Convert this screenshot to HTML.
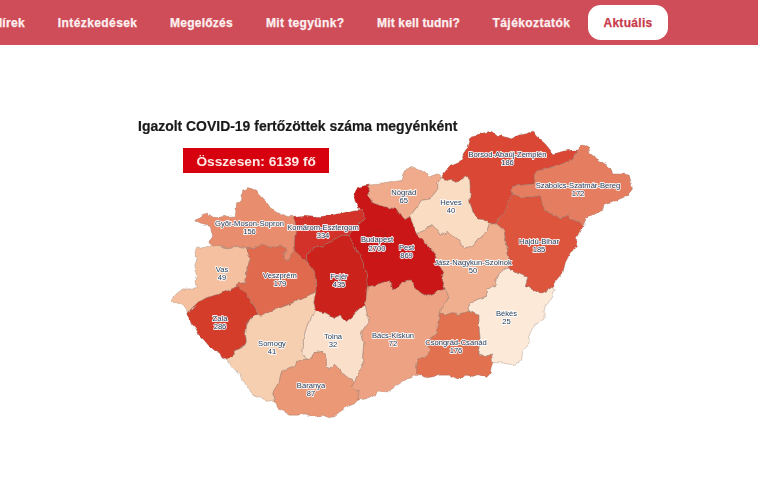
<!DOCTYPE html>
<html lang="hu"><head><meta charset="utf-8"><title>Koronavírus</title>
<style>
html,body{margin:0;padding:0;background:#fff;}
body{width:758px;height:485px;overflow:hidden;position:relative;font-family:"Liberation Sans",sans-serif;}
#nav{position:absolute;left:0;top:0;width:758px;height:45.4px;background:#cf4d59;box-shadow:0 0.4px 0.8px rgba(207,77,89,.55);}
.ni{position:absolute;top:15.3px;height:16px;line-height:16px;font-size:12px;font-weight:bold;color:#fdf0f1;white-space:nowrap;-webkit-text-stroke:0.25px #fdf0f1}
#pill{position:absolute;left:588px;top:4.5px;width:80px;height:35px;border-radius:12.5px;background:#fff;}
#pill span{position:absolute;left:0;width:80px;text-align:center;top:10.3px;line-height:16px;font-size:12px;font-weight:bold;color:#c93a4a;letter-spacing:0.31px;-webkit-text-stroke:0.25px #c93a4a}
#title{position:absolute;left:138px;top:116.6px;font-size:14.5px;font-weight:bold;color:#1a1a1a;white-space:nowrap;line-height:18px;transform-origin:0 0;transform:scaleX(0.962);filter:blur(0.35px);-webkit-text-stroke:0.2px #1a1a1a}
#total{position:absolute;left:182.8px;top:148.4px;width:146.7px;height:25px;background:#d7000f;color:#fde9e6;font-weight:bold;font-size:13.7px;line-height:27px;text-align:center;filter:blur(0.3px)}
svg{position:absolute;left:0;top:0;}
#lb text{font-family:"Liberation Sans",sans-serif;font-size:7.6px;fill:#25405f;text-anchor:middle;paint-order:stroke;stroke:#fff;stroke-width:1.8px;stroke-linejoin:round;stroke-opacity:.9}
#ln polygon{fill:none;stroke:#8a6f64;stroke-opacity:.45;stroke-width:.7;stroke-linejoin:round}
</style></head><body>
<div id="nav">
<span class="ni" style="left:-6.6px;letter-spacing:0.3px">Hírek</span>
<span class="ni" style="left:57.8px;letter-spacing:0.41px">Intézkedések</span>
<span class="ni" style="left:170px;letter-spacing:0.25px">Megelőzés</span>
<span class="ni" style="left:266px;letter-spacing:0.37px">Mit tegyünk?</span>
<span class="ni" style="left:377px;letter-spacing:0.16px">Mit kell tudni?</span>
<span class="ni" style="left:492.5px;letter-spacing:0.43px">Tájékoztatók</span>
<div id="pill"><span>Aktuális</span></div>
</div>
<div id="title">Igazolt COVID-19 fertőzöttek száma megyénként</div>
<div id="total">Összesen: 6139 fő</div>
<svg width="758" height="485" viewBox="0 0 758 485">
<defs><filter id="jg" x="-2%" y="-2%" width="104%" height="104%"><feTurbulence type="fractalNoise" baseFrequency="0.14" numOctaves="2" seed="7" result="n"/><feDisplacementMap in="SourceGraphic" in2="n" scale="4.2" xChannelSelector="R" yChannelSelector="G"/><feGaussianBlur stdDeviation="0.45"/></filter></defs>
<g filter="url(#jg)">
<g id="fl" stroke-linejoin="round">
<polygon points="275.5,403.5 266.5,400 260.3,398 254.2,395.5 249.5,390.3 245,383.5 240.2,376.3 235.6,370.3 229.8,364.2 226.5,360.0 229.5,358.2 233,355.5 233.3,350.8 238,349.4 243,347 246.3,341 245.4,334 246.7,325 250.5,318.2 257.8,314.3 260.3,315.2 270.3,311.5 280.3,307.7 290.4,303.9 300.4,298.9 310.4,293.9 316,292.5 315,297 313.8,302.6 316.3,311.3 310,318 306.5,327.6 303.4,337.6 303.5,346.5 302.8,352.5 306.5,360.2 296.4,361.4 295.2,366.4 288.9,368.9 281.4,371.4 278.9,382.7 275.1,387.7 273.9,395.2" fill="#f6ceb0"/>
<polygon points="316.3,311.3 325,312.6 333.9,317.6 340,315 346.4,321.4 352.7,316.3 357.7,310 365.2,305 368.9,321.4 365.2,326.4 361.4,332.6 363.9,342.7 362.7,355.2 362.7,365.2 358.9,372.7 354.5,381.2 348.5,378 342.5,373.2 338.2,368 334,363.9 329,368.9 326.5,365.1 326.2,358.5 322.7,351.3 314,352.6 311.5,358.8 306.5,360.2 302.8,352.5 303.5,346.5 303.4,337.6 306.5,327.6 310,318" fill="#fae0ca"/>
<polygon points="551.6,287.6 555.3,290.2 551.6,298.9 545.3,305.2 544.1,310 544.1,318.8 535.3,325 529,332.6 530.3,341.4 522.8,350.1 521.6,360.2 515.3,365.2 507.8,363.9 500.3,362.7 492.7,362.7 491.5,353.9 486.5,356.4 477.7,353.9 480.2,341.4 478.9,325 478.9,315 472.9,313.5 469.5,311.2 467.6,307.7 470.1,302.7 478.9,298.9 486.4,296.4 487.7,288.9 495.2,285.1 496.4,277.6 500.2,272.6 507.7,267.6 515.2,272.6 522.8,275.1 527.8,277.6 525.3,286.4 534,290.2 540.3,293.9 545.3,291.4" fill="#fce9d8"/>
<polygon points="409.6,216.7 416.4,207.7 421.4,200.2 430.2,198.9 437.7,188.9 437.7,182.6 441.5,177.6 449,180.1 455.3,181.4 461.5,180.1 465.3,175.8 469.8,180.1 470.3,190.1 469.8,200.2 472.8,212.7 477.8,218.9 483,219.5 489.5,223 486.6,231.5 477.8,239 472.8,245.3 465.3,248.5 460.3,242.8 454,236.5 447.7,231.5 440.2,235.2 436.5,229 431.5,225.2 425.2,229 416.4,232.7 413.9,226.5" fill="#f9dcc2"/>
<polygon points="187.8,313.5 186.3,309 182.6,304 175.1,302.7 171.3,300.2 176.3,293.9 182.6,288.9 190.1,288.9 196.4,287.6 195.1,281.4 196.4,275.1 193.9,268.8 196.4,261.3 196.4,253.8 195.1,248.8 203.9,246.3 213.5,246.8 217.7,246.3 227.7,248.8 236.5,246.3 246.5,248.8 247.7,255.1 250.3,260.1 246.5,267.6 246.5,276.4 245.2,282.6 238,283.7 237.7,286.0 232.7,288.4 225.2,292 216.4,294.7 206.4,297.7 197.6,302.7 190.5,309.5" fill="#f4c0a0"/>
<polygon points="416.4,232.7 425.2,229 431.5,225.2 436.5,229 440.2,235.2 447.7,231.5 454,236.5 460.3,242.8 465.3,248.5 472.8,245.3 477.8,239 486.6,231.5 489.5,223 495.1,222.7 504,230 506.5,245 509,257.6 507.7,267.6 500.2,272.6 496.4,277.6 495.2,285.1 487.7,288.9 486.4,296.4 478.9,298.9 470.1,302.7 467.6,307.7 469.5,311.2 464.3,312.5 457.8,314.6 452.4,312.5 447,314.6 440.5,313 441.5,308.1 445.9,303.8 448,297.3 445,288.9 441.3,280 443.8,272.6 438.8,265 435,255 427.5,245 420,237.5" fill="#f0b090"/>
<polygon points="367.5,185.1 382.6,183.9 401.4,180.1 403.9,171.3 411.4,166.3 422.7,171.3 430.2,176.3 437.7,173.8 441.5,177.6 437.7,182.6 437.7,188.9 430.2,198.9 421.4,200.2 416.4,207.7 409.6,216.7 403.9,220.2 398.9,212.7 396.4,208.9 382.6,206.4 372.6,202.7 368.8,196.4" fill="#efab8b"/>
<polygon points="421.3,374.5 412.8,376.5 404,380.8 395.4,386.5 388,392 377.9,391 374,395.5 365.3,398.9 357.8,400.2 359.1,391.4 355.3,390.2 351.6,386.4 354.5,381.2 358.9,372.7 362.7,365.2 362.7,355.2 363.9,342.7 361.4,332.6 365.2,326.4 368.9,321.4 365.2,305 366.4,295 367.2,286.8 375.2,285 382.7,282.5 390.2,281.3 392.8,288.8 397.8,287.5 402.8,281.3 410.3,280 415.3,287.5 420.3,292.5 426.6,296.3 435.4,292.5 445,288.9 448,297.3 445.9,303.8 441.5,308.1 440.5,313 438.3,325.5 437.2,333 432.9,337.4 427.5,339.5 426.4,344.9 430.7,349.3 427.5,354.7 421,357.9 416.6,361.2 415.6,366.6 417.7,373.1" fill="#eca283"/>
<polygon points="357.8,400.2 354.1,404 347.8,406.5 340.3,411.5 334,416.5 329,417.7 322.7,415.2 314,416.5 305.2,414 297.7,415.2 290.2,415.2 283.9,411.5 277.6,407.7 275.5,403.5 273.9,395.2 275.1,387.7 278.9,382.7 281.4,371.4 288.9,368.9 295.2,366.4 296.4,361.4 306.5,360.2 311.5,358.8 314,352.6 322.7,351.3 326.2,358.5 326.5,365.1 329,368.9 334,363.9 338.2,368 342.5,373.2 348.5,378 354.5,381.2 351.6,386.4 355.3,390.2 359.1,391.4" fill="#ea9876"/>
<polygon points="213.5,246.8 208.9,242.8 212.6,235.2 210.1,226.5 200.1,224 194.6,220.7 202.6,213.9 207.6,213.2 213.9,217.7 224,216.6 235.2,215.9 236.4,205.2 241.5,200.2 242.7,190.1 247.7,187.6 256.5,190.1 259,193.9 265.3,200.2 270.3,207.7 280.3,213.9 287.8,216.4 294.7,216.2 295.6,230 294.4,240.2 294.2,250.5 290.8,254.5 287.3,260.8 283.8,258.3 284.6,254 287.5,249.5 280.3,245 270.3,247.5 261.5,243.8 255.3,247.5 246.5,248.8 236.5,246.3 227.7,248.8 217.7,246.3" fill="#e88d6e"/>
<polygon points="577.8,150.1 582.8,145 587.3,146.3 589.1,152.6 595.4,157.6 602.9,162.6 610.4,167.6 612.9,173.9 622.9,173.9 629.2,175.1 631.7,183.9 632.5,188.9 627.9,195.2 622.9,197.7 614.2,201.4 604.1,205.2 602.9,210.2 594.1,214 586.6,217.7 582.8,226.5 578.5,221.5 574.4,220.8 567.8,215.5 561.2,217.8 553,214.5 544.7,210.5 542,203 540.5,195.6 529.9,197 520.2,196.8 512.7,193.9 511.4,190.2 512.7,186.4 522.7,185.1 534,183.9 534,175.1 536.5,171.4 550.3,167.6 562.8,163.8 572.8,157.6" fill="#e57e60"/>
<polygon points="492.7,362.7 490.2,372.7 486.5,376.4 480.2,373.9 472.7,376.4 466.4,375.2 457.6,379 450.1,375.2 441.4,375.2 427.6,377.7 421.3,374.5 417.7,373.1 415.6,366.6 416.6,361.2 421,357.9 427.5,354.7 430.7,349.3 426.4,344.9 427.5,339.5 432.9,337.4 437.2,333 438.3,325.5 440.5,313 447,314.6 452.4,312.5 457.8,314.6 464.3,312.5 469.5,311.2 472.9,313.5 478.9,315 478.9,325 480.2,341.4 477.7,353.9 486.5,356.4 491.5,353.9" fill="#e2714f"/>
<polygon points="246.5,248.8 255.3,247.5 261.5,243.8 270.3,247.5 280.3,245 287.5,249.5 284.6,254 283.8,258.3 287.3,260.8 290.8,254.5 294.2,250.5 299.8,255.8 307.2,261.8 311.5,267.2 314.5,271.5 315.6,280.1 316,292.5 310.4,293.9 300.4,298.9 290.4,303.9 280.3,307.7 270.3,311.5 260.3,315.2 257.8,314.3 254.2,306.5 250.2,299.5 246,293.5 241.5,288.5 237.7,286.0 238,283.7 245.2,282.6 246.5,276.4 246.5,267.6 250.3,260.1 247.7,255.1" fill="#e06a4e"/>
<polygon points="582.8,226.5 580.3,230.3 576.6,237.5 576.6,247.5 570.4,252.6 565.4,262.6 562.9,272.6 555.3,281.4 551.6,287.6 545.3,291.4 540.3,293.9 534,290.2 525.3,286.4 527.8,277.6 522.8,275.1 515.2,272.6 507.7,267.6 509,257.6 506.5,245 504,230 495.1,222.7 501.4,216.5 507.6,205.2 512.7,193.9 520.2,196.8 529.9,197 540.5,195.6 542,203 544.7,210.5 553,214.5 561.2,217.8 567.8,215.5 574.4,220.8 578.5,221.5" fill="#dd553e"/>
<polygon points="441.5,177.6 450,166.3 458.8,162.6 467.5,148.8 471.3,136.3 480.1,133.8 491.4,131.3 496.4,135 503.9,136.3 511.4,138.8 518.9,135 525.2,133.8 532.7,131.3 536.5,136.3 545.2,143.8 550.3,150.1 554,153.8 562.8,151.3 572.8,150.1 577.8,150.1 572.8,157.6 562.8,163.8 550.3,167.6 536.5,171.4 534,175.1 534,183.9 522.7,185.1 512.7,186.4 511.4,190.2 512.7,193.9 507.6,205.2 501.4,216.5 495.1,222.7 489.5,223 483,219.5 477.8,218.9 472.8,212.7 469.8,200.2 470.3,190.1 469.8,180.1 465.3,175.8 461.5,180.1 455.3,181.4 449,180.1" fill="#da4735"/>
<polygon points="226.5,360.0 222,358 219.6,353 214.6,350.6 208.6,345.5 203.5,339.4 198.5,334.5 195.5,329 190,323 187.8,313.5 190.5,309.5 197.6,302.7 206.4,297.7 216.4,294.7 225.2,292 232.7,288.4 237.7,286.0 241.5,288.5 246,293.5 250.2,299.5 254.2,306.5 257.8,314.3 250.5,318.2 246.7,325 245.4,334 246.3,341 243,347 238,349.4 233.3,350.8 233,355.5 229.5,358.2" fill="#d33c2c"/>
<polygon points="294.7,216.2 304.6,215.3 319.4,216.6 332,215 344.5,212.5 354.5,210 360.5,209.5 363.2,212 365.2,218.9 359,223.9 352.7,230.2 349.2,236.2 343,235 338,237.3 333,240.3 328,243 322.5,246 316.4,247.5 310.5,250 306.5,255.5 307.2,261.8 299.8,255.8 294.2,250.5 294.4,240.2 295.6,230" fill="#d2332a"/>
<polygon points="307.2,261.8 306.5,255.5 310.5,250 316.4,247.5 322.5,246 328,243 333,240.3 338,237.3 343,235 349.2,236.2 353.2,243.5 358.7,253.5 363,263 366,271.5 367,280.3 367.2,286.8 366.4,295 365.2,305 357.7,310 352.7,316.3 346.4,321.4 340,315 333.9,317.6 325,312.6 316.3,311.3 313.8,302.6 315,297 316,292.5 315.6,280.1 314.5,271.5 311.5,267.2" fill="#cc241c"/>
<polygon points="360.5,209.5 355.2,202.6 353.9,194 357.5,187.6 362,186.2 367.5,185.1 368.8,196.4 372.6,202.7 382.6,206.4 396.4,208.9 398.9,212.7 403.9,220.2 409.6,216.7 413.9,226.5 416.4,232.7 420,237.5 427.5,245 435,255 438.8,265 443.8,272.6 441.3,280 445,288.9 435.4,292.5 426.6,296.3 420.3,292.5 415.3,287.5 410.3,280 402.8,281.3 397.8,287.5 392.8,288.8 390.2,281.3 382.7,282.5 375.2,285 367.2,286.8 367,280.3 366,271.5 363,263 358.7,253.5 353.2,243.5 349.2,236.2 352.7,230.2 359,223.9 365.2,218.9 363.2,212" fill="#ca1715"/>
</g>
<g id="ln">
<polygon points="275.5,403.5 266.5,400 260.3,398 254.2,395.5 249.5,390.3 245,383.5 240.2,376.3 235.6,370.3 229.8,364.2 226.5,360.0 229.5,358.2 233,355.5 233.3,350.8 238,349.4 243,347 246.3,341 245.4,334 246.7,325 250.5,318.2 257.8,314.3 260.3,315.2 270.3,311.5 280.3,307.7 290.4,303.9 300.4,298.9 310.4,293.9 316,292.5 315,297 313.8,302.6 316.3,311.3 310,318 306.5,327.6 303.4,337.6 303.5,346.5 302.8,352.5 306.5,360.2 296.4,361.4 295.2,366.4 288.9,368.9 281.4,371.4 278.9,382.7 275.1,387.7 273.9,395.2"/>
<polygon points="316.3,311.3 325,312.6 333.9,317.6 340,315 346.4,321.4 352.7,316.3 357.7,310 365.2,305 368.9,321.4 365.2,326.4 361.4,332.6 363.9,342.7 362.7,355.2 362.7,365.2 358.9,372.7 354.5,381.2 348.5,378 342.5,373.2 338.2,368 334,363.9 329,368.9 326.5,365.1 326.2,358.5 322.7,351.3 314,352.6 311.5,358.8 306.5,360.2 302.8,352.5 303.5,346.5 303.4,337.6 306.5,327.6 310,318"/>
<polygon points="551.6,287.6 555.3,290.2 551.6,298.9 545.3,305.2 544.1,310 544.1,318.8 535.3,325 529,332.6 530.3,341.4 522.8,350.1 521.6,360.2 515.3,365.2 507.8,363.9 500.3,362.7 492.7,362.7 491.5,353.9 486.5,356.4 477.7,353.9 480.2,341.4 478.9,325 478.9,315 472.9,313.5 469.5,311.2 467.6,307.7 470.1,302.7 478.9,298.9 486.4,296.4 487.7,288.9 495.2,285.1 496.4,277.6 500.2,272.6 507.7,267.6 515.2,272.6 522.8,275.1 527.8,277.6 525.3,286.4 534,290.2 540.3,293.9 545.3,291.4"/>
<polygon points="409.6,216.7 416.4,207.7 421.4,200.2 430.2,198.9 437.7,188.9 437.7,182.6 441.5,177.6 449,180.1 455.3,181.4 461.5,180.1 465.3,175.8 469.8,180.1 470.3,190.1 469.8,200.2 472.8,212.7 477.8,218.9 483,219.5 489.5,223 486.6,231.5 477.8,239 472.8,245.3 465.3,248.5 460.3,242.8 454,236.5 447.7,231.5 440.2,235.2 436.5,229 431.5,225.2 425.2,229 416.4,232.7 413.9,226.5"/>
<polygon points="187.8,313.5 186.3,309 182.6,304 175.1,302.7 171.3,300.2 176.3,293.9 182.6,288.9 190.1,288.9 196.4,287.6 195.1,281.4 196.4,275.1 193.9,268.8 196.4,261.3 196.4,253.8 195.1,248.8 203.9,246.3 213.5,246.8 217.7,246.3 227.7,248.8 236.5,246.3 246.5,248.8 247.7,255.1 250.3,260.1 246.5,267.6 246.5,276.4 245.2,282.6 238,283.7 237.7,286.0 232.7,288.4 225.2,292 216.4,294.7 206.4,297.7 197.6,302.7 190.5,309.5"/>
<polygon points="416.4,232.7 425.2,229 431.5,225.2 436.5,229 440.2,235.2 447.7,231.5 454,236.5 460.3,242.8 465.3,248.5 472.8,245.3 477.8,239 486.6,231.5 489.5,223 495.1,222.7 504,230 506.5,245 509,257.6 507.7,267.6 500.2,272.6 496.4,277.6 495.2,285.1 487.7,288.9 486.4,296.4 478.9,298.9 470.1,302.7 467.6,307.7 469.5,311.2 464.3,312.5 457.8,314.6 452.4,312.5 447,314.6 440.5,313 441.5,308.1 445.9,303.8 448,297.3 445,288.9 441.3,280 443.8,272.6 438.8,265 435,255 427.5,245 420,237.5"/>
<polygon points="367.5,185.1 382.6,183.9 401.4,180.1 403.9,171.3 411.4,166.3 422.7,171.3 430.2,176.3 437.7,173.8 441.5,177.6 437.7,182.6 437.7,188.9 430.2,198.9 421.4,200.2 416.4,207.7 409.6,216.7 403.9,220.2 398.9,212.7 396.4,208.9 382.6,206.4 372.6,202.7 368.8,196.4"/>
<polygon points="421.3,374.5 412.8,376.5 404,380.8 395.4,386.5 388,392 377.9,391 374,395.5 365.3,398.9 357.8,400.2 359.1,391.4 355.3,390.2 351.6,386.4 354.5,381.2 358.9,372.7 362.7,365.2 362.7,355.2 363.9,342.7 361.4,332.6 365.2,326.4 368.9,321.4 365.2,305 366.4,295 367.2,286.8 375.2,285 382.7,282.5 390.2,281.3 392.8,288.8 397.8,287.5 402.8,281.3 410.3,280 415.3,287.5 420.3,292.5 426.6,296.3 435.4,292.5 445,288.9 448,297.3 445.9,303.8 441.5,308.1 440.5,313 438.3,325.5 437.2,333 432.9,337.4 427.5,339.5 426.4,344.9 430.7,349.3 427.5,354.7 421,357.9 416.6,361.2 415.6,366.6 417.7,373.1"/>
<polygon points="357.8,400.2 354.1,404 347.8,406.5 340.3,411.5 334,416.5 329,417.7 322.7,415.2 314,416.5 305.2,414 297.7,415.2 290.2,415.2 283.9,411.5 277.6,407.7 275.5,403.5 273.9,395.2 275.1,387.7 278.9,382.7 281.4,371.4 288.9,368.9 295.2,366.4 296.4,361.4 306.5,360.2 311.5,358.8 314,352.6 322.7,351.3 326.2,358.5 326.5,365.1 329,368.9 334,363.9 338.2,368 342.5,373.2 348.5,378 354.5,381.2 351.6,386.4 355.3,390.2 359.1,391.4"/>
<polygon points="213.5,246.8 208.9,242.8 212.6,235.2 210.1,226.5 200.1,224 194.6,220.7 202.6,213.9 207.6,213.2 213.9,217.7 224,216.6 235.2,215.9 236.4,205.2 241.5,200.2 242.7,190.1 247.7,187.6 256.5,190.1 259,193.9 265.3,200.2 270.3,207.7 280.3,213.9 287.8,216.4 294.7,216.2 295.6,230 294.4,240.2 294.2,250.5 290.8,254.5 287.3,260.8 283.8,258.3 284.6,254 287.5,249.5 280.3,245 270.3,247.5 261.5,243.8 255.3,247.5 246.5,248.8 236.5,246.3 227.7,248.8 217.7,246.3"/>
<polygon points="577.8,150.1 582.8,145 587.3,146.3 589.1,152.6 595.4,157.6 602.9,162.6 610.4,167.6 612.9,173.9 622.9,173.9 629.2,175.1 631.7,183.9 632.5,188.9 627.9,195.2 622.9,197.7 614.2,201.4 604.1,205.2 602.9,210.2 594.1,214 586.6,217.7 582.8,226.5 578.5,221.5 574.4,220.8 567.8,215.5 561.2,217.8 553,214.5 544.7,210.5 542,203 540.5,195.6 529.9,197 520.2,196.8 512.7,193.9 511.4,190.2 512.7,186.4 522.7,185.1 534,183.9 534,175.1 536.5,171.4 550.3,167.6 562.8,163.8 572.8,157.6"/>
<polygon points="492.7,362.7 490.2,372.7 486.5,376.4 480.2,373.9 472.7,376.4 466.4,375.2 457.6,379 450.1,375.2 441.4,375.2 427.6,377.7 421.3,374.5 417.7,373.1 415.6,366.6 416.6,361.2 421,357.9 427.5,354.7 430.7,349.3 426.4,344.9 427.5,339.5 432.9,337.4 437.2,333 438.3,325.5 440.5,313 447,314.6 452.4,312.5 457.8,314.6 464.3,312.5 469.5,311.2 472.9,313.5 478.9,315 478.9,325 480.2,341.4 477.7,353.9 486.5,356.4 491.5,353.9"/>
<polygon points="246.5,248.8 255.3,247.5 261.5,243.8 270.3,247.5 280.3,245 287.5,249.5 284.6,254 283.8,258.3 287.3,260.8 290.8,254.5 294.2,250.5 299.8,255.8 307.2,261.8 311.5,267.2 314.5,271.5 315.6,280.1 316,292.5 310.4,293.9 300.4,298.9 290.4,303.9 280.3,307.7 270.3,311.5 260.3,315.2 257.8,314.3 254.2,306.5 250.2,299.5 246,293.5 241.5,288.5 237.7,286.0 238,283.7 245.2,282.6 246.5,276.4 246.5,267.6 250.3,260.1 247.7,255.1"/>
<polygon points="582.8,226.5 580.3,230.3 576.6,237.5 576.6,247.5 570.4,252.6 565.4,262.6 562.9,272.6 555.3,281.4 551.6,287.6 545.3,291.4 540.3,293.9 534,290.2 525.3,286.4 527.8,277.6 522.8,275.1 515.2,272.6 507.7,267.6 509,257.6 506.5,245 504,230 495.1,222.7 501.4,216.5 507.6,205.2 512.7,193.9 520.2,196.8 529.9,197 540.5,195.6 542,203 544.7,210.5 553,214.5 561.2,217.8 567.8,215.5 574.4,220.8 578.5,221.5"/>
<polygon points="441.5,177.6 450,166.3 458.8,162.6 467.5,148.8 471.3,136.3 480.1,133.8 491.4,131.3 496.4,135 503.9,136.3 511.4,138.8 518.9,135 525.2,133.8 532.7,131.3 536.5,136.3 545.2,143.8 550.3,150.1 554,153.8 562.8,151.3 572.8,150.1 577.8,150.1 572.8,157.6 562.8,163.8 550.3,167.6 536.5,171.4 534,175.1 534,183.9 522.7,185.1 512.7,186.4 511.4,190.2 512.7,193.9 507.6,205.2 501.4,216.5 495.1,222.7 489.5,223 483,219.5 477.8,218.9 472.8,212.7 469.8,200.2 470.3,190.1 469.8,180.1 465.3,175.8 461.5,180.1 455.3,181.4 449,180.1"/>
<polygon points="226.5,360.0 222,358 219.6,353 214.6,350.6 208.6,345.5 203.5,339.4 198.5,334.5 195.5,329 190,323 187.8,313.5 190.5,309.5 197.6,302.7 206.4,297.7 216.4,294.7 225.2,292 232.7,288.4 237.7,286.0 241.5,288.5 246,293.5 250.2,299.5 254.2,306.5 257.8,314.3 250.5,318.2 246.7,325 245.4,334 246.3,341 243,347 238,349.4 233.3,350.8 233,355.5 229.5,358.2"/>
<polygon points="294.7,216.2 304.6,215.3 319.4,216.6 332,215 344.5,212.5 354.5,210 360.5,209.5 363.2,212 365.2,218.9 359,223.9 352.7,230.2 349.2,236.2 343,235 338,237.3 333,240.3 328,243 322.5,246 316.4,247.5 310.5,250 306.5,255.5 307.2,261.8 299.8,255.8 294.2,250.5 294.4,240.2 295.6,230"/>
<polygon points="307.2,261.8 306.5,255.5 310.5,250 316.4,247.5 322.5,246 328,243 333,240.3 338,237.3 343,235 349.2,236.2 353.2,243.5 358.7,253.5 363,263 366,271.5 367,280.3 367.2,286.8 366.4,295 365.2,305 357.7,310 352.7,316.3 346.4,321.4 340,315 333.9,317.6 325,312.6 316.3,311.3 313.8,302.6 315,297 316,292.5 315.6,280.1 314.5,271.5 311.5,267.2"/>
<polygon points="360.5,209.5 355.2,202.6 353.9,194 357.5,187.6 362,186.2 367.5,185.1 368.8,196.4 372.6,202.7 382.6,206.4 396.4,208.9 398.9,212.7 403.9,220.2 409.6,216.7 413.9,226.5 416.4,232.7 420,237.5 427.5,245 435,255 438.8,265 443.8,272.6 441.3,280 445,288.9 435.4,292.5 426.6,296.3 420.3,292.5 415.3,287.5 410.3,280 402.8,281.3 397.8,287.5 392.8,288.8 390.2,281.3 382.7,282.5 375.2,285 367.2,286.8 367,280.3 366,271.5 363,263 358.7,253.5 353.2,243.5 349.2,236.2 352.7,230.2 359,223.9 365.2,218.9 363.2,212"/>
<polygon points="369,233 374.5,229.8 381,231 385.5,235.5 386.8,243 384.5,250 380,255.5 374.5,257.5 370,253.5 366.8,247.5 365.8,240" style="stroke:#7a2a25;stroke-opacity:.5"/>
</g>
</g>
<g id="lb" style="filter:blur(0.3px)">
<text x="249.5" y="225.5">Győr-Moson-Sopron</text><text x="249.5" y="233.9">156</text>
<text x="323" y="229.7">Komárom-Esztergom</text><text x="323" y="238.1">334</text>
<text x="377" y="242.2">Budapest</text><text x="377" y="250.6">2700</text>
<text x="406.5" y="249.5">Pest</text><text x="406.5" y="257.9">869</text>
<text x="403.8" y="194.6">Nógrád</text><text x="403.8" y="203.0">65</text>
<text x="451" y="205">Heves</text><text x="451" y="213.4">40</text>
<text x="507.5" y="157">Borsod-Abaúj-Zemplén</text><text x="507.5" y="165.4">186</text>
<text x="578" y="188">Szabolcs-Szatmár-Bereg</text><text x="578" y="196.4">172</text>
<text x="539" y="244">Hajdú-Bihar</text><text x="539" y="252.4">185</text>
<text x="473" y="264.5">Jász-Nagykun-Szolnok</text><text x="473" y="272.9">50</text>
<text x="506.5" y="316">Békés</text><text x="506.5" y="324.4">25</text>
<text x="456" y="345">Csongrád-Csanád</text><text x="456" y="353.4">176</text>
<text x="393" y="338">Bács-Kiskun</text><text x="393" y="346.4">72</text>
<text x="333" y="339">Tolna</text><text x="333" y="347.4">32</text>
<text x="311" y="388">Baranya</text><text x="311" y="396.4">87</text>
<text x="272" y="346">Somogy</text><text x="272" y="354.4">41</text>
<text x="220" y="321">Zala</text><text x="220" y="329.4">286</text>
<text x="222" y="272">Vas</text><text x="222" y="280.4">49</text>
<text x="280" y="278">Veszprém</text><text x="280" y="286.4">179</text>
<text x="339" y="278.5">Fejér</text><text x="339" y="286.9">435</text>
</g>
</svg>
</body></html>
